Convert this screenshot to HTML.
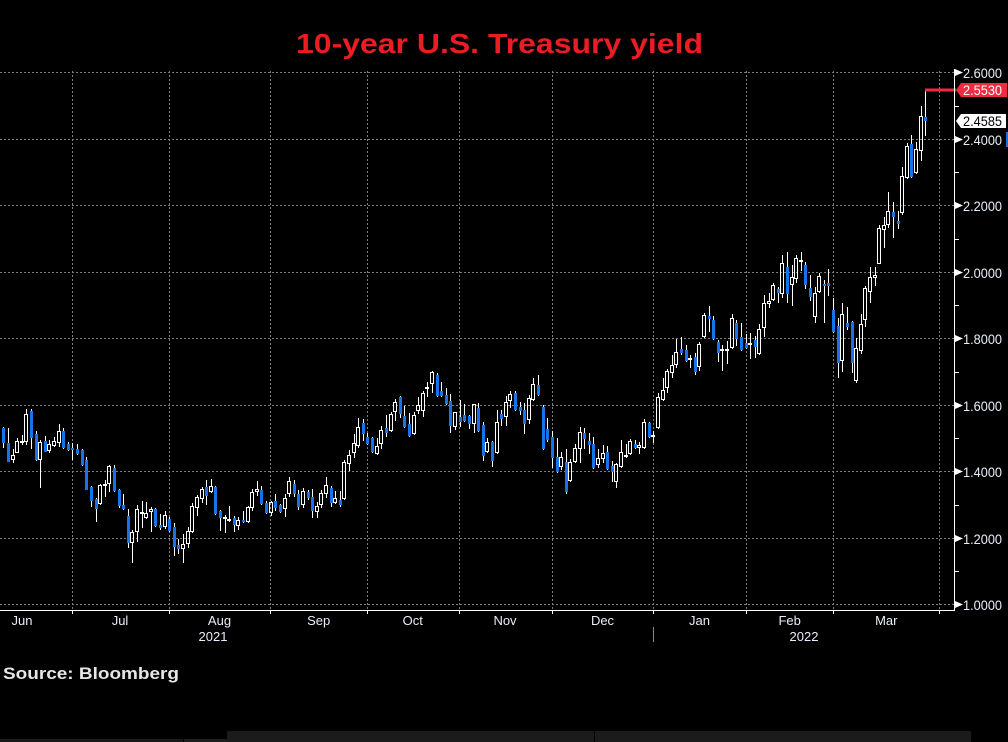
<!DOCTYPE html>
<html><head><meta charset="utf-8"><style>
html,body{margin:0;padding:0;background:#000;}
svg{display:block;}
text{font-family:"Liberation Sans",Arial,sans-serif;}
</style></head><body>
<svg id="s" width="1008" height="742" viewBox="0 0 1008 742" xmlns="http://www.w3.org/2000/svg">
<rect x="0" y="0" width="1008" height="742" fill="#000"/>
<text x="296" y="53" font-size="28" font-weight="bold" fill="#ec1c24" textLength="407" lengthAdjust="spacingAndGlyphs">10-year U.S. Treasury yield</text>
<g stroke="#7c7c7c" stroke-width="1" stroke-dasharray="2,2" shape-rendering="crispEdges">
<line x1="0" y1="72.5" x2="954" y2="72.5"/>
<line x1="0" y1="139.5" x2="954" y2="139.5"/>
<line x1="0" y1="205.5" x2="954" y2="205.5"/>
<line x1="0" y1="272.5" x2="954" y2="272.5"/>
<line x1="0" y1="338.5" x2="954" y2="338.5"/>
<line x1="0" y1="405.5" x2="954" y2="405.5"/>
<line x1="0" y1="471.5" x2="954" y2="471.5"/>
<line x1="0" y1="538.5" x2="954" y2="538.5"/>
<line x1="0" y1="604.5" x2="954" y2="604.5"/>
<line x1="72.5" y1="71" x2="72.5" y2="610"/>
<line x1="169.5" y1="71" x2="169.5" y2="610"/>
<line x1="270.5" y1="71" x2="270.5" y2="610"/>
<line x1="367.5" y1="71" x2="367.5" y2="610"/>
<line x1="459.5" y1="71" x2="459.5" y2="610"/>
<line x1="552.5" y1="71" x2="552.5" y2="610"/>
<line x1="653.5" y1="71" x2="653.5" y2="610"/>
<line x1="746.5" y1="71" x2="746.5" y2="610"/>
<line x1="833.5" y1="71" x2="833.5" y2="610"/>
<line x1="939.5" y1="71" x2="939.5" y2="610"/>
</g>
<g id="c"></g>
<line x1="925" y1="90" x2="956" y2="90" stroke="#ee2b40" stroke-width="3"/>
<g stroke="#fff" stroke-width="1" shape-rendering="crispEdges">
<line x1="0" y1="610.5" x2="955" y2="610.5"/>
<line x1="954.5" y1="69" x2="954.5" y2="611"/>
<line x1="72.5" y1="610" x2="72.5" y2="614"/>
<line x1="169.5" y1="610" x2="169.5" y2="614"/>
<line x1="270.5" y1="610" x2="270.5" y2="614"/>
<line x1="367.5" y1="610" x2="367.5" y2="614"/>
<line x1="459.5" y1="610" x2="459.5" y2="614"/>
<line x1="552.5" y1="610" x2="552.5" y2="614"/>
<line x1="653.5" y1="610" x2="653.5" y2="614"/>
<line x1="746.5" y1="610" x2="746.5" y2="614"/>
<line x1="833.5" y1="610" x2="833.5" y2="614"/>
<line x1="939.5" y1="610" x2="939.5" y2="614"/>
<line x1="955" y1="106.5" x2="959" y2="106.5"/>
<line x1="955" y1="172.5" x2="959" y2="172.5"/>
<line x1="955" y1="239.5" x2="959" y2="239.5"/>
<line x1="955" y1="305.5" x2="959" y2="305.5"/>
<line x1="955" y1="372.5" x2="959" y2="372.5"/>
<line x1="955" y1="438.5" x2="959" y2="438.5"/>
<line x1="955" y1="505.5" x2="959" y2="505.5"/>
<line x1="955" y1="571.5" x2="959" y2="571.5"/>
</g>
<g fill="#fff">
<polygon points="955,69 963,72.5 955,76"/>
<polygon points="955,136 963,139.5 955,143"/>
<polygon points="955,202 963,205.5 955,209"/>
<polygon points="955,269 963,272.5 955,276"/>
<polygon points="955,335 963,338.5 955,342"/>
<polygon points="955,402 963,405.5 955,409"/>
<polygon points="955,468 963,471.5 955,475"/>
<polygon points="955,535 963,538.5 955,542"/>
<polygon points="955,601 963,604.5 955,608"/>
</g>
<g font-size="14" fill="#e8eef8">
<text x="963" y="78" textLength="39" lengthAdjust="spacingAndGlyphs">2.6000</text>
<text x="963" y="145" textLength="39" lengthAdjust="spacingAndGlyphs">2.4000</text>
<text x="963" y="211" textLength="39" lengthAdjust="spacingAndGlyphs">2.2000</text>
<text x="963" y="278" textLength="39" lengthAdjust="spacingAndGlyphs">2.0000</text>
<text x="963" y="344" textLength="39" lengthAdjust="spacingAndGlyphs">1.8000</text>
<text x="963" y="411" textLength="39" lengthAdjust="spacingAndGlyphs">1.6000</text>
<text x="963" y="477" textLength="39" lengthAdjust="spacingAndGlyphs">1.4000</text>
<text x="963" y="544" textLength="39" lengthAdjust="spacingAndGlyphs">1.2000</text>
<text x="963" y="610" textLength="39" lengthAdjust="spacingAndGlyphs">1.0000</text>
</g>
<polygon points="956,90 961,83 1007,83 1007,97 961,97" fill="#ee2b40"/>
<text x="963" y="95" font-size="14" fill="#fff" textLength="39" lengthAdjust="spacingAndGlyphs">2.5530</text>
<polygon points="956,121 961,114 1006,114 1006,128 961,128" fill="#fff"/>
<text x="963" y="126" font-size="14" fill="#000" textLength="39" lengthAdjust="spacingAndGlyphs">2.4585</text>
<rect x="1006" y="132" width="2" height="15" fill="#1a70e0"/>
<g font-size="13" fill="#e8eef8" text-anchor="middle">
<text x="22" y="625">Jun</text>
<text x="120" y="625">Jul</text>
<text x="219.5" y="625">Aug</text>
<text x="318.7" y="625">Sep</text>
<text x="412.7" y="625">Oct</text>
<text x="505" y="625">Nov</text>
<text x="602.5" y="625">Dec</text>
<text x="699.5" y="625">Jan</text>
<text x="789.7" y="625">Feb</text>
<text x="886.3" y="625">Mar</text>
<text x="213" y="641">2021</text>
<text x="804" y="641">2022</text>
</g>
<line x1="653.5" y1="627" x2="653.5" y2="642" stroke="#888" stroke-width="1"/>
<text x="3" y="679" font-size="17" font-weight="bold" fill="#e6e6e6" textLength="176" lengthAdjust="spacingAndGlyphs">Source: Bloomberg</text>
<rect x="0" y="739" width="183" height="3" fill="#1a1a1a"/>
<rect x="184" y="739" width="43" height="3" fill="#1e1e1e"/>
<rect x="227" y="731" width="367" height="11" fill="#1b1b1b"/>
<rect x="595" y="731" width="376" height="11" fill="#1b1b1b"/>
</svg>
<script>
var D=[
[427.7,442.7,0,426.7,447.7],[442.7,461.7,0,427.7,461.7],[455,459.7,1,449.3,462.7],[441,452.7,1,438.3,453.3],[441,442.7,1,435,445],
[414,441.7,1,409,445],[411,437.7,0,409,449],[434,459.7,0,431,461],[441.7,459.7,1,440,487.7],[441,451.7,0,436,452],
[444,451,1,440,452.7],[441,446,1,437,446.7],[431,442.7,1,424,446.7],[431,447.7,0,428.3,449],[444,450,0,442,451],
[448,449.7,0,443.3,460],[449,453.7,0,444,455],[450,464.7,0,449,466],[460,489.7,0,457,490],[487,500.7,0,486,506.7],
[499,508.7,0,498,521.7],[485,503.7,1,484,504.5],[484,485.7,1,480,496.7],[466,484.3,1,465,491.7],[468,490.7,0,465,491.5],
[490,506,0,489,507.7],[505,508.7,0,494,509.5],[516,542.7,0,509,547.7],[531.7,542.7,1,530,562.7],[509,531.7,1,505,541.7],
[512,513.7,1,501,527.7],[513,517.7,1,502.3,519],[509,511.7,1,507,531.7],[509,525.7,0,508,527],[525,527.7,0,514,529.7],
[515,527,1,510.7,528.7],[519,531.3,0,517,532],[527,546.7,0,523,555.7],[545,549,0,539,554],[544,548.7,1,534,562.7],
[531,544,1,526.7,548.3],[506,531.7,1,503.3,532.5],[496.7,508.3,1,495,516],[488.7,499.3,1,486.7,502.7],[487,496,0,480,505],
[486,491.7,1,479,493.3],[487,513.7,0,486,514.5],[511,517.7,0,510,531],[517.3,518.3,1,515,532.7],[518.7,520,1,506,521.7],
[517.7,525,0,516,531.7],[520,525.7,1,517.3,530],[520,521.7,0,511,522.5],[507,521.7,1,506,522.5],[492,507.7,1,488.7,510.7],
[489,492.3,1,481,495.7],[490,503.7,0,486,505.3],[503.3,512.7,0,501.3,513.5],[502.3,512.7,1,501,516],[501,507.7,0,494,510.7],
[505.3,511.7,0,504,512.5],[497.7,509.3,1,494.3,517.3],[481,494.3,1,477.3,496.7],[484,493.7,0,479.7,496.7],[493.7,506.7,0,490,510],
[491,505.3,1,487.7,507.7],[492,498.3,0,490,500],[497,511,0,489,517.7],[506,511.7,1,501.7,518.3],[493.3,505.3,1,490,507.7],
[485.3,493.7,1,477.3,497.7],[488,503.3,0,486,506.7],[498.3,502.7,1,491,504.3],[500,505.3,0,491,506.7],[462,499.3,1,460,500],
[455.3,464.3,1,450,470.7],[443.3,452.7,1,434,457.7],[426.7,446,1,417.7,447.7],[422.7,434,0,419.3,441],[437,444,0,433.3,445],
[438.3,451.7,0,437,453],[446,453.7,1,437.7,455],[430,444.3,1,426,449.3],[428.3,432.7,0,415,436.7],[414,430.7,1,412.3,432],
[402.3,412.3,1,399.3,421],[397.3,414,0,396,417.7],[416,426.7,0,406,427.5],[424,436,0,413.3,437.3],[415,433.7,1,412.3,434.5],
[405.3,410.7,1,396.7,414],[393.3,410.7,1,391,417.3],[387,388,1,382.3,396.7],[372.3,384.3,1,370.7,392.7],[375,395.7,0,372.7,396.5],
[391,395.7,0,382.3,397],[395,403.7,0,388.3,404.5],[401,425.7,0,394.3,432.7],[412.3,426.7,1,411.7,430],[417.3,421.7,0,400,426.7],
[415,420.7,0,404.3,421.5],[416,423.7,0,415,429.3],[404.3,423.7,1,404,432.7],[408,430.7,0,402.7,431.5],[425,455.7,0,421.7,460.7],
[442,452.3,1,438.3,453.3],[442,460.7,0,441,467.3],[422.3,452.7,1,410,454],[414,419,0,410,425.7],[401.7,416.7,1,396,425.7],
[394,400.7,1,391.3,408.3],[393.3,410,0,391,411],[406.7,410.7,0,401.7,415],[410,424,0,402.7,434],[398.3,420,1,395,424],
[384,400,1,378.3,401],[385,395,0,375,396],[407.3,449,0,405,450],[429,440,0,418.3,441.7],[437.3,457.7,0,431,467.7],
[457.3,471.7,0,438.3,472.5],[457,466.7,1,451.7,470],[462.3,491.7,0,449,494],[461.7,480.7,1,459.3,482.3],[448.3,462.3,1,444.3,463],
[432.3,449.3,1,427.3,462.7],[433,439.3,0,428.3,449],[441,444.7,0,433.3,454.3],[444,467.7,0,437.3,468.5],[458.3,465,1,449,467.7],
[453.3,459.3,1,445,463.3],[452.3,468.7,0,445.7,469.5],[466,471.7,0,461,481.7],[464,481.7,1,463.3,487.7],[451.7,466.7,1,440,467.5],
[455,457.3,1,444.3,458],[441,454.3,1,439.3,455],[444,447.7,0,440,448.5],[445,447.7,1,441.7,454],[422.3,448.3,1,419,449],
[423.3,436.7,0,422.3,438.3],[435,436.7,1,431,442.7],[396.7,427.7,1,393.3,429.3],[390,400,1,378.3,401],[371,388.3,1,369,392.7],
[365.3,372.7,1,355,377.7],[352.3,365.3,1,339,368.3],[349.3,352.7,0,337.3,355],[350.3,360.7,0,345,361.5],[358.3,360,1,355,368.3],
[357.3,371.7,0,352.7,375],[344,366.7,1,341.7,370.7],[315,337.3,1,313.3,338],[316,319,0,305.7,331.7],[320,339,0,316,340],
[342.3,353.3,0,340,361.7],[349,350,1,345,371],[349.3,350.7,1,340.7,364],[318.3,348.3,1,314,349],[323.3,339.3,0,320,345.7],
[337.3,350,0,323.3,351],[343.3,347.7,0,334,349],[343,344.7,1,333.3,359.3],[340,347.3,0,336,358.3],[329.3,354.3,1,324,355],
[303.3,328.3,1,295,336.7],[301.3,304.3,1,293.3,307.7],[285.3,300.3,1,283.3,301],[289,292.7,0,286.7,303.3],[263.3,294.3,1,255,298.3],
[267.3,294.3,0,252.3,302.7],[277.3,285.3,1,265,305.7],[258.3,279.3,1,255,283.3],[260,261,1,252.3,270.7],[265.3,285.3,0,262.3,288.7],
[288.3,296.7,0,275,300.7],[293.3,316.7,1,287.3,323.3],[276.3,291.7,1,273.3,293.3],[284,285.7,0,280,323.3],[283,285.7,0,269.3,295.7],
[310,331.7,0,298.3,332.5],[326,363.3,0,318.3,378.3],[314,360.7,1,303.3,372.3],[323.3,326.7,0,306.7,330],[322,362.7,0,321,372.7],
[348.3,380.7,1,338.3,383.3],[324.3,350.7,1,314,354],[288.3,320,1,286,326.7],[277.3,291.7,1,267.3,302.7],[275,277.7,1,267.3,285.7],
[228.3,264,1,225,264.3],[225.3,230,1,216.7,248.3],[211.3,225,1,192,228.3],[212,216.7,0,202.3,237.7],[221,224,0,211,229],
[176,212.7,1,167.3,215],[146,177.7,1,142.7,178.5],[144,176.7,0,135,178],[149,172.7,1,141.7,173.5],[116,150.7,1,106,160.7],
[117,121,0,90,135.7]
];
var h='',R=Math.round;
for(var i=0;i<D.length;i++){
 var d=D[i],cx=R(3.3+i*4.61),t=R(d[0]),b=R(d[1]),wt=R(d[3]),wb=R(d[4]),wx=cx+0.5;
 if(b-t<1)b=t+1;
 if(d[2]==0){
  h+='<line x1="'+wx+'" y1="'+wt+'" x2="'+wx+'" y2="'+wb+'" stroke="#fff" stroke-width="1"/>';
  h+='<rect x="'+(cx-1)+'" y="'+t+'" width="3" height="'+(b-t)+'" fill="#1673ea"/>';
 }else{
  if(wt<t)h+='<line x1="'+wx+'" y1="'+wt+'" x2="'+wx+'" y2="'+t+'" stroke="#fff" stroke-width="1"/>';
  if(wb>b)h+='<line x1="'+wx+'" y1="'+b+'" x2="'+wx+'" y2="'+wb+'" stroke="#fff" stroke-width="1"/>';
  if(b-t<=2){h+='<rect x="'+(cx-2)+'" y="'+t+'" width="4" height="'+Math.max(2,b-t)+'" fill="#fff"/>';}
  else h+='<rect x="'+(cx-1.5)+'" y="'+(t+0.5)+'" width="3" height="'+(b-t-1)+'" fill="none" stroke="#fff" stroke-width="1"/>';
 }
}
var g=document.getElementById('c');g.setAttribute('shape-rendering','crispEdges');g.innerHTML=h;
</script>
</body></html>
